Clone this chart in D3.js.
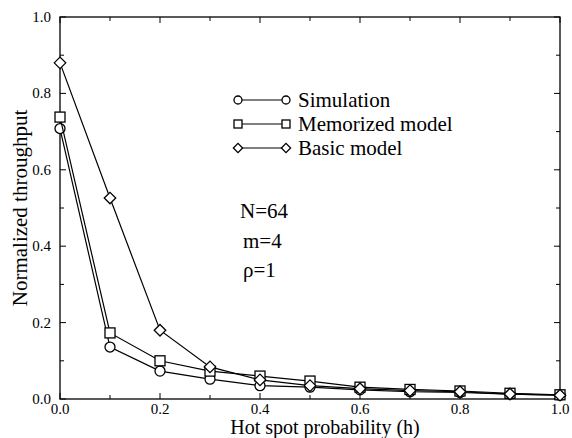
<!DOCTYPE html>
<html>
<head>
<meta charset="utf-8">
<script src="https://cdn.jsdelivr.net/npm/d3@7"></script>
<style>
body { margin: 0; background: #fff; }
</style>
</head>
<body>
<script>
var hValues = [0.0, 0.1, 0.2, 0.3, 0.4, 0.5, 0.6, 0.7, 0.8, 0.9, 1.0];
var simulation = [0.708, 0.136, 0.073, 0.052, 0.035, 0.031, 0.024, 0.019, 0.017, 0.013, 0.010];
var memorized = [0.738, 0.173, 0.100, 0.073, 0.060, 0.047, 0.031, 0.025, 0.021, 0.015, 0.011];
var basic = [0.880, 0.526, 0.180, 0.084, 0.050, 0.035, 0.027, 0.022, 0.019, 0.013, 0.010];
var seriesNames = ["Simulation", "Memorized model", "Basic model"];
var seriesShapes = ["circle", "square", "diamond"];
var majorTicks = [0, 0.2, 0.4, 0.6, 0.8, 1.0];
var minorTicks = [0, 0.1, 0.2, 0.3, 0.4, 0.5, 0.6, 0.7, 0.8, 0.9, 1.0];
var notes = ["N=64", "m=4", "\u03c1=1"];

var width = 572, height = 438;
var margin = {left: 60, right: 12, top: 17, bottom: 39};
var serif = "'Liberation Serif'";

var svg = d3.select("body").append("svg")
	.attr("width", width)
	.attr("height", height);

var x = d3.scaleLinear().domain([0, 1]).range([margin.left, width - margin.right]);
var y = d3.scaleLinear().domain([0, 1]).range([height - margin.bottom, margin.top]);

/* frame */
svg.append("rect")
	.attr("x", x(0)).attr("y", y(1))
	.attr("width", x(1) - x(0)).attr("height", y(0) - y(1))
	.attr("fill", "none").attr("stroke", "#000").attr("stroke-width", 1.3);

/* inward ticks on all four sides */
var ticks = svg.append("g").attr("stroke", "#000").attr("stroke-width", 1);
minorTicks.forEach(function(t) {
	var len = majorTicks.some(function(m) { return Math.abs(m - t) < 1e-9; }) ? 6 : 4;
	ticks.append("line").attr("x1", x(t)).attr("x2", x(t)).attr("y1", y(0)).attr("y2", y(0) - len);
	ticks.append("line").attr("x1", x(t)).attr("x2", x(t)).attr("y1", y(1)).attr("y2", y(1) + len);
	ticks.append("line").attr("y1", y(t)).attr("y2", y(t)).attr("x1", x(0)).attr("x2", x(0) + len);
	ticks.append("line").attr("y1", y(t)).attr("y2", y(t)).attr("x1", x(1)).attr("x2", x(1) - len);
});

/* tick labels */
var fmt = d3.format(".1f");
svg.append("g").selectAll("text").data(majorTicks).enter().append("text")
	.attr("x", function(d) { return x(d); })
	.attr("y", y(0) + 15)
	.attr("text-anchor", "middle")
	.attr("font-family", serif)
	.attr("font-size", 15)
	.text(fmt);
svg.append("g").selectAll("text").data(majorTicks).enter().append("text")
	.attr("x", x(0) - 9)
	.attr("y", function(d) { return y(d) + 5; })
	.attr("text-anchor", "end")
	.attr("font-family", serif)
	.attr("font-size", 15)
	.text(fmt);

/* axis titles */
svg.append("text")
	.attr("x", 325).attr("y", 434)
	.attr("text-anchor", "middle")
	.attr("font-family", serif)
	.attr("font-size", 20)
	.text("Hot spot probability (h)");
svg.append("text")
	.attr("transform", "translate(27," + y(0.5) + ") rotate(-90)")
	.attr("text-anchor", "middle")
	.attr("font-family", serif)
	.attr("font-size", 21)
	.text("Normalized throughput");

/* markers */
function drawMarker(g, shape, cx, cy, s) {
	if (shape == "circle") {
		g.append("circle").attr("cx", cx).attr("cy", cy).attr("r", s);
	} else if (shape == "square") {
		g.append("rect").attr("x", cx - s).attr("y", cy - s).attr("width", 2 * s).attr("height", 2 * s);
	} else {
		var d = s * 1.15;
		g.append("path").attr("d", "M" + (cx - d) + "," + cy + "L" + cx + "," + (cy - d) +
			"L" + (cx + d) + "," + cy + "L" + cx + "," + (cy + d) + "Z");
	}
}

var allSeries = [simulation, memorized, basic];
var line = d3.line()
	.x(function(d, i) { return x(hValues[i]); })
	.y(function(d) { return y(d); });

allSeries.forEach(function(vals, k) {
	svg.append("path")
		.attr("d", line(vals))
		.attr("fill", "none")
		.attr("stroke", "#000")
		.attr("stroke-width", 1.2);
	var g = svg.append("g").attr("fill", "#fff").attr("stroke", "#000").attr("stroke-width", 1.3);
	vals.forEach(function(v, i) { drawMarker(g, seriesShapes[k], x(hValues[i]), y(v), 5); });
});

/* legend */
var legendY = [100, 124, 148];
seriesNames.forEach(function(name, k) {
	var g = svg.append("g");
	g.append("line")
		.attr("x1", 238).attr("x2", 286)
		.attr("y1", legendY[k]).attr("y2", legendY[k])
		.attr("stroke", "#000").attr("stroke-width", 1);
	var m = g.append("g").attr("fill", "#fff").attr("stroke", "#000").attr("stroke-width", 1.3);
	drawMarker(m, seriesShapes[k], 238, legendY[k], 4);
	drawMarker(m, seriesShapes[k], 286, legendY[k], 4);
	g.append("text")
		.attr("x", 298).attr("y", legendY[k] + 7)
		.attr("font-family", serif)
		.attr("font-size", 21)
		.text(name);
});

/* parameters */
var noteY = [218, 248, 277];
notes.forEach(function(t, i) {
	svg.append("text")
		.attr("x", i == 0 ? 240 : 243).attr("y", noteY[i])
		.attr("font-family", serif)
		.attr("font-size", 21)
		.text(t);
});
</script>
</body>
</html>
